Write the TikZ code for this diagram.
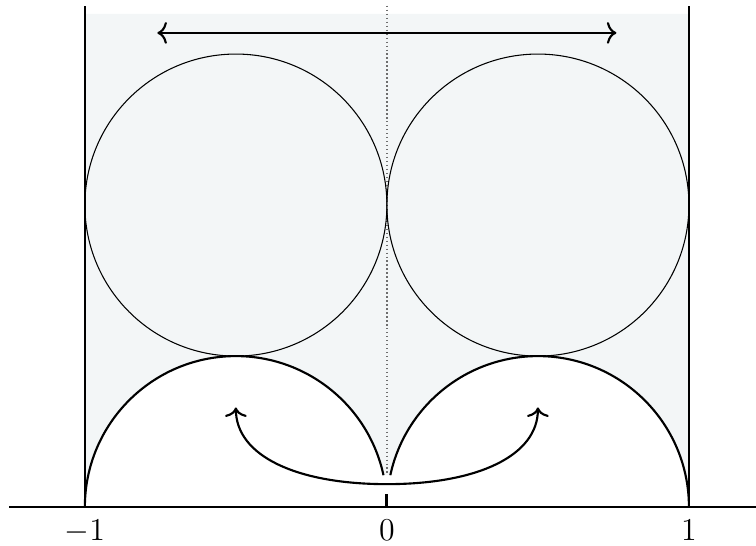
\documentclass[tikz,border=0pt]{standalone}
\usepackage{xcolor}
\usetikzlibrary{arrows.meta, positioning, calc}
\definecolor{regfill}{RGB}{243,246,247}
\definecolor{midgray}{RGB}{110,110,110}
\tikzset{
  geodesic/.style={thick, color=black},
  horocircle/.style={line width=0.4pt, color=black},
  axisline/.style={thick, color=black},
  arrow/.style={thick, color=black, >={To[length=3.6pt, width=8.2pt]}},
  midline/.style={densely dotted, color=midgray, line width=0.5pt},
  ticklabel/.style={below, yshift=-1.2pt, font=\large}
}

\begin{document}
\begin{tikzpicture}[x=4cm, y=4cm]
  \useasboundingbox (-1.281,-0.126) rectangle (1.222,1.679);

  % shaded region above the two geodesics
  \fill[regfill] (-1,0) arc[start angle=180, end angle=12.2, radius=0.5]
    -- (0.0113,0.1057) arc[start angle=167.8, end angle=0, radius=0.5]
    -- (1,1.633) -- (-1,1.633) -- cycle;

  \coordinate (xl) at (-1.25,0);
  \coordinate (xr) at (1.25,0);
  \coordinate (m1) at (-1,0);
  \coordinate (p1) at (1,0);
  \coordinate (o) at (0,0);
  \coordinate (m1top) at (-1,1.66);
  \coordinate (p1top) at (1,1.66);
  \coordinate (midtop) at (0,1.66);
  \coordinate (midbot) at (0,0.106);

  \draw[midline] (midtop) -- (midbot);

  % horocircles
  \draw[horocircle] (-0.5,1) circle[radius=0.5];
  \draw[horocircle] (0.5,1) circle[radius=0.5];

  % geodesics
  \draw[geodesic] (m1) arc[start angle=180, end angle=12.2, radius=0.5];
  \draw[geodesic] (p1) arc[start angle=0, end angle=167.8, radius=0.5];
  \draw[geodesic] (m1) -- (m1top);
  \draw[geodesic] (p1) -- (p1top);

  % real axis
  \draw[axisline] (xl) -- (xr);
  \draw[line width=1.2pt] (o) -- ++(0,0.043);
  \node[ticklabel] (lm1) at (m1) {$-1$};
  \node[ticklabel] (l0) at (o) {$0$};
  \node[ticklabel] (lp1) at (p1) {$1$};

  % translations
  \coordinate (tl) at (-0.76,1.57);
  \coordinate (tr) at (0.76,1.57);
  \draw[arrow, <->] (tl) -- (tr);

  \coordinate (cl) at (-0.5,0.33);
  \coordinate (cb) at (0,0.076);
  \coordinate (cr) at (0.5,0.33);
  \draw[arrow, <->] (cl) .. controls (-0.5,0.17) and (-0.3,0.076) .. (cb)
    .. controls (0.3,0.076) and (0.5,0.17) .. (cr);
\end{tikzpicture}
\end{document}
